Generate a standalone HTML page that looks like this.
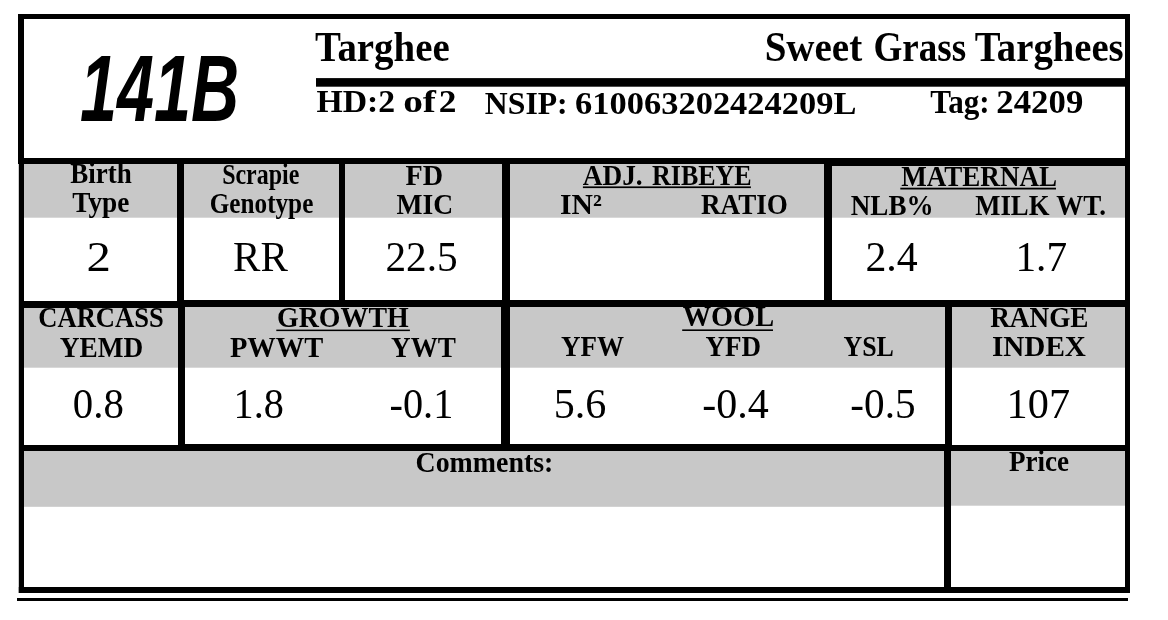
<!DOCTYPE html>
<html lang="en"><head><meta charset="utf-8"><title>Lot 141B - Sweet Grass Targhees</title>
<style>
html,body{margin:0;padding:0;background:#fff;}
body{width:1168px;height:620px;overflow:hidden;position:relative;}
svg{display:block;position:absolute;left:0;top:0;will-change:transform;}
text{font-family:"Liberation Serif",serif;fill:#000;}
.b{font-weight:bold;}
</style></head><body>
<svg width="1168" height="620" viewBox="0 0 1168 620">
<rect x="0.00" y="0.00" width="1168.00" height="620.00" fill="#fff"/>
<!-- grey label bands -->
<rect x="24.00" y="164.00" width="1101.00" height="53.70" fill="#c8c8c8"/>
<rect x="24.00" y="307.00" width="1101.00" height="60.70" fill="#c8c8c8"/>
<rect x="24.00" y="451.00" width="921.00" height="55.80" fill="#c8c8c8"/>
<rect x="951.00" y="451.00" width="174.00" height="54.70" fill="#c8c8c8"/>
<!-- text -->
<text id="t0" class="b" x="315.10" y="60.70" font-size="42" textLength="134.54" lengthAdjust="spacingAndGlyphs">Targhee</text>
<text id="t1" class="b" x="764.67" y="61.20" font-size="42" textLength="97.54" lengthAdjust="spacingAndGlyphs">Sweet</text>
<text id="t2" class="b" x="873.41" y="61.20" font-size="42" textLength="92.70" lengthAdjust="spacingAndGlyphs">Grass</text>
<text id="t3" class="b" x="974.63" y="61.20" font-size="42" textLength="149.01" lengthAdjust="spacingAndGlyphs">Targhees</text>
<text id="t4" class="b" x="316.47" y="112.40" font-size="32.5" textLength="78.75" lengthAdjust="spacingAndGlyphs">HD:2</text>
<text id="t5" class="b" x="403.15" y="112.40" font-size="32.5" textLength="32.85" lengthAdjust="spacingAndGlyphs">of</text>
<text id="t6" class="b" x="438.73" y="112.40" font-size="32.5" textLength="17.70" lengthAdjust="spacingAndGlyphs">2</text>
<text id="t7" class="b" x="484.84" y="114.40" font-size="32.6" textLength="82.86" lengthAdjust="spacingAndGlyphs">NSIP:</text>
<text id="t8" class="b" x="575.10" y="114.40" font-size="32.6" textLength="281.33" lengthAdjust="spacingAndGlyphs">610063202424209L</text>
<text id="t9" class="b" x="930.26" y="112.70" font-size="34" textLength="59.44" lengthAdjust="spacingAndGlyphs">Tag:</text>
<text id="t10" class="b" x="996.36" y="112.70" font-size="34" textLength="86.91" lengthAdjust="spacingAndGlyphs">24209</text>
<text id="t11" class="b" x="70.21" y="183.30" font-size="28.5" textLength="61.58" lengthAdjust="spacingAndGlyphs">Birth</text>
<text id="t12" class="b" x="72.26" y="212.20" font-size="28.5" textLength="57.11" lengthAdjust="spacingAndGlyphs">Type</text>
<text id="t13" class="b" x="222.17" y="183.80" font-size="28.5" textLength="77.20" lengthAdjust="spacingAndGlyphs">Scrapie</text>
<text id="t14" class="b" x="209.77" y="212.70" font-size="28.5" textLength="103.55" lengthAdjust="spacingAndGlyphs">Genotype</text>
<text id="t15" class="b" x="405.42" y="184.60" font-size="29" textLength="37.59" lengthAdjust="spacingAndGlyphs">FD</text>
<text id="t16" class="b" x="396.47" y="213.80" font-size="29" textLength="56.65" lengthAdjust="spacingAndGlyphs">MIC</text>
<text id="t17" class="b" x="582.68" y="184.60" font-size="29" textLength="60.01" lengthAdjust="spacingAndGlyphs">ADJ.</text>
<text id="t18" class="b" x="652.00" y="184.60" font-size="29" textLength="99.64" lengthAdjust="spacingAndGlyphs">RIBEYE</text>
<text id="t19" class="b" x="560.10" y="213.80" font-size="29" textLength="41.80" lengthAdjust="spacingAndGlyphs">IN²</text>
<text id="t20" class="b" x="701.00" y="213.80" font-size="29" textLength="86.85" lengthAdjust="spacingAndGlyphs">RATIO</text>
<text id="t21" class="b" x="901.21" y="185.90" font-size="29" textLength="155.85" lengthAdjust="spacingAndGlyphs">MATERNAL</text>
<text id="t22" class="b" x="850.84" y="214.60" font-size="29" textLength="82.70" lengthAdjust="spacingAndGlyphs">NLB%</text>
<text id="t23" class="b" x="975.26" y="214.80" font-size="29" textLength="74.16" lengthAdjust="spacingAndGlyphs">MILK</text>
<text id="t24" class="b" x="1056.21" y="214.80" font-size="29" textLength="49.85" lengthAdjust="spacingAndGlyphs">WT.</text>
<text id="t25" x="86.46" y="271.00" font-size="42" textLength="24.40" lengthAdjust="spacingAndGlyphs">2</text>
<text id="t26" x="233.10" y="271.00" font-size="42" textLength="54.85" lengthAdjust="spacingAndGlyphs">RR</text>
<text id="t27" x="385.41" y="271.00" font-size="42" textLength="72.23" lengthAdjust="spacingAndGlyphs">22.5</text>
<text id="t28" x="865.41" y="271.00" font-size="42" textLength="52.33" lengthAdjust="spacingAndGlyphs">2.4</text>
<text id="t29" x="1015.45" y="271.00" font-size="42" textLength="51.61" lengthAdjust="spacingAndGlyphs">1.7</text>
<text id="t30" class="b" x="38.36" y="327.40" font-size="29" textLength="125.28" lengthAdjust="spacingAndGlyphs">CARCASS</text>
<text id="t31" class="b" x="59.83" y="357.40" font-size="29" textLength="83.39" lengthAdjust="spacingAndGlyphs">YEMD</text>
<text id="t32" class="b" x="276.99" y="327.40" font-size="29" textLength="131.75" lengthAdjust="spacingAndGlyphs">GROWTH</text>
<text id="t33" class="b" x="229.89" y="356.80" font-size="29" textLength="93.43" lengthAdjust="spacingAndGlyphs">PWWT</text>
<text id="t34" class="b" x="391.05" y="356.80" font-size="29" textLength="64.95" lengthAdjust="spacingAndGlyphs">YWT</text>
<text id="t35" class="b" x="682.68" y="326.30" font-size="29" textLength="91.38" lengthAdjust="spacingAndGlyphs">WOOL</text>
<text id="t36" class="b" x="561.00" y="355.80" font-size="29" textLength="63.00" lengthAdjust="spacingAndGlyphs">YFW</text>
<text id="t37" class="b" x="705.42" y="355.80" font-size="29" textLength="55.64" lengthAdjust="spacingAndGlyphs">YFD</text>
<text id="t38" class="b" x="843.47" y="355.80" font-size="29" textLength="50.43" lengthAdjust="spacingAndGlyphs">YSL</text>
<text id="t39" class="b" x="990.21" y="326.60" font-size="29" textLength="98.27" lengthAdjust="spacingAndGlyphs">RANGE</text>
<text id="t40" class="b" x="991.94" y="355.80" font-size="29" textLength="94.01" lengthAdjust="spacingAndGlyphs">INDEX</text>
<text id="t41" x="72.83" y="417.60" font-size="42" textLength="51.02" lengthAdjust="spacingAndGlyphs">0.8</text>
<text id="t42" x="233.61" y="417.60" font-size="42" textLength="50.24" lengthAdjust="spacingAndGlyphs">1.8</text>
<text id="t43" x="389.57" y="417.60" font-size="42" textLength="63.76" lengthAdjust="spacingAndGlyphs">-0.1</text>
<text id="t44" x="553.67" y="417.60" font-size="42" textLength="52.60" lengthAdjust="spacingAndGlyphs">5.6</text>
<text id="t45" x="702.20" y="417.60" font-size="42" textLength="66.54" lengthAdjust="spacingAndGlyphs">-0.4</text>
<text id="t46" x="850.36" y="417.60" font-size="42" textLength="65.28" lengthAdjust="spacingAndGlyphs">-0.5</text>
<text id="t47" x="1006.61" y="417.60" font-size="42" textLength="63.40" lengthAdjust="spacingAndGlyphs">107</text>
<text id="t48" class="b" x="415.52" y="471.50" font-size="29" textLength="137.81" lengthAdjust="spacingAndGlyphs">Comments:</text>
<text id="t49" class="b" x="1009.00" y="470.80" font-size="29" textLength="60.11" lengthAdjust="spacingAndGlyphs">Price</text>
<!-- underlines -->
<rect x="582.90" y="186.40" width="168.00" height="1.70" fill="#000"/>
<rect x="900.30" y="187.70" width="155.70" height="1.80" fill="#000"/>
<rect x="276.30" y="329.60" width="133.60" height="1.50" fill="#000"/>
<rect x="682.20" y="329.40" width="90.80" height="1.60" fill="#000"/>
<!-- rules -->
<rect x="18.00" y="14.00" width="1112.00" height="5.00" fill="#000"/>
<rect x="18.00" y="14.00" width="6.00" height="147.00" fill="#000"/>
<rect x="18.80" y="158.00" width="5.20" height="435.00" fill="#000"/>
<rect x="1125.00" y="14.00" width="5.00" height="579.00" fill="#000"/>
<rect x="18.80" y="587.00" width="1111.20" height="6.00" fill="#000"/>
<rect x="17.00" y="598.00" width="1111.00" height="3.00" fill="#000"/>
<rect x="316.00" y="78.10" width="811.00" height="8.60" fill="#000"/>
<rect x="18.00" y="158.00" width="1112.00" height="6.00" fill="#000"/>
<rect x="828.00" y="158.00" width="302.00" height="8.00" fill="#000"/>
<rect x="19.00" y="301.00" width="161.00" height="7.00" fill="#000"/>
<rect x="178.00" y="300.00" width="952.00" height="7.00" fill="#000"/>
<rect x="19.00" y="445.00" width="161.00" height="6.00" fill="#000"/>
<rect x="178.00" y="444.00" width="772.00" height="7.00" fill="#000"/>
<rect x="945.00" y="445.00" width="185.00" height="6.00" fill="#000"/>
<rect x="177.00" y="158.00" width="7.00" height="146.00" fill="#000"/>
<rect x="339.00" y="158.00" width="6.00" height="146.00" fill="#000"/>
<rect x="502.00" y="158.00" width="8.00" height="146.00" fill="#000"/>
<rect x="824.00" y="158.00" width="8.00" height="146.00" fill="#000"/>
<rect x="178.00" y="300.00" width="7.00" height="148.00" fill="#000"/>
<rect x="501.00" y="300.00" width="9.00" height="148.00" fill="#000"/>
<rect x="945.00" y="300.00" width="7.00" height="148.00" fill="#000"/>
<rect x="944.00" y="445.00" width="7.00" height="145.00" fill="#000"/>
<!-- lot number 141B -->
<text id="lot" x="80" y="121" font-size="94" font-weight="bold" font-style="italic" style="font-family:'Liberation Sans',sans-serif;" textLength="159" lengthAdjust="spacingAndGlyphs">141B</text>
</svg>
</body></html>
